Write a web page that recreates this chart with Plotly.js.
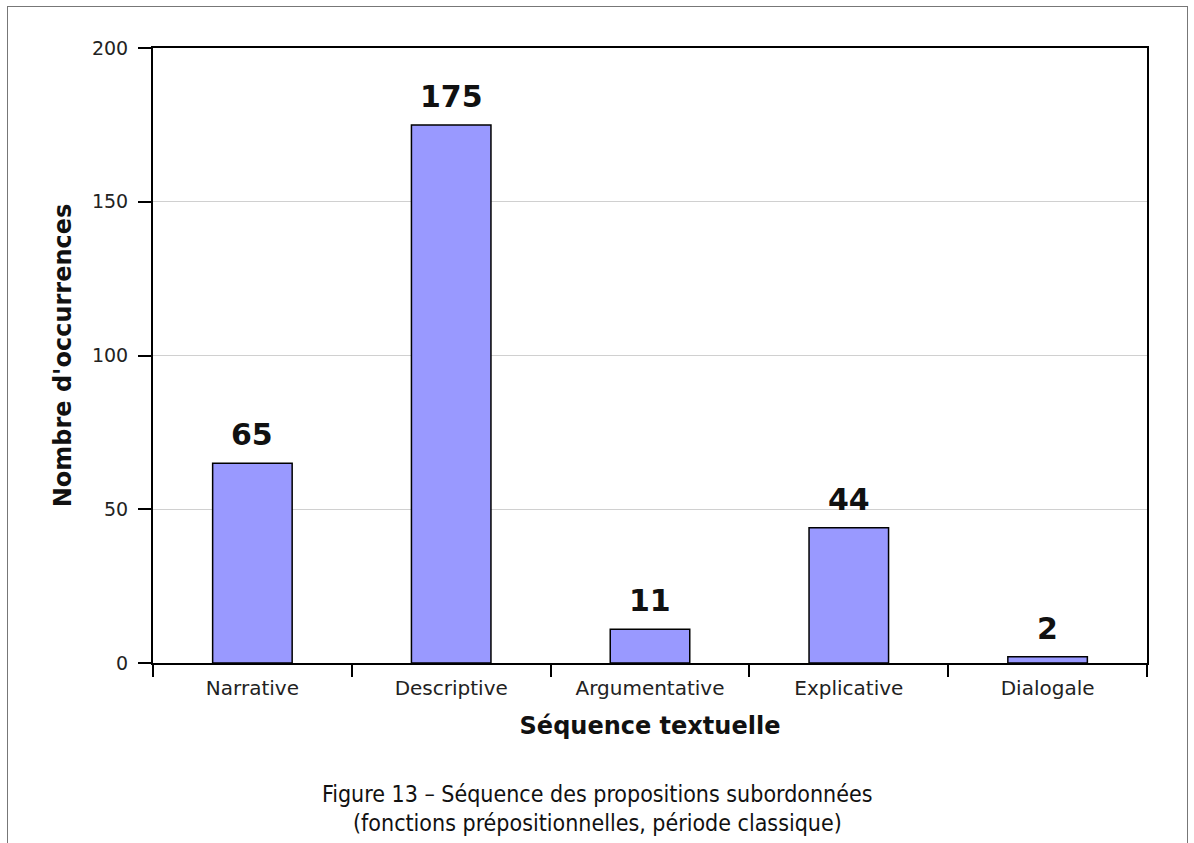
<!DOCTYPE html>
<html>
<head>
<meta charset="utf-8">
<script src="https://cdn.plot.ly/plotly-3.0.1.min.js"></script>
<style>
html,body{margin:0;padding:0;background:#fff;overflow:hidden;}
#chart{position:absolute;left:0;top:0;width:1194px;height:843px;}
#frame{position:absolute;left:7px;top:6px;width:1179px;height:1000px;border:1px solid #777;pointer-events:none;}
</style>
</head>
<body>
<div id="chart"></div>
<div id="frame"></div>
<script>
const categories = ["Narrative", "Descriptive", "Argumentative", "Explicative", "Dialogale"];
const occurrences = [65, 175, 11, 44, 2];
const yTicks = [0, 50, 100, 150, 200];
const xTitle = "Séquence textuelle";
const yTitle = "Nombre d'occurrences";
const captionLines = ["Figure 13 – Séquence des propositions subordonnées",
                      "(fonctions prépositionnelles, période classique)"];

const trace = {
  type: "bar",
  x: categories,
  y: occurrences,
  width: 0.4,
  marker: {color: "#9999ff", line: {color: "#000", width: 1.5}},
  hoverinfo: "none"
};

const annotations = categories.map((c, i) => ({
  x: c, y: occurrences[i], xref: "x", yref: "y",
  text: String(occurrences[i]),
  showarrow: false, yanchor: "bottom", yshift: 9,
  font: {family: "DejaVu Sans", size: 30, color: "#111", weight: "bold"}
}));
const capFont = {family: "DejaVu Sans Condensed, Liberation Sans, sans-serif", size: 23, color: "#111"};
annotations.push({
  x: 0.447, y: 0, xref: "paper", yref: "paper",
  text: captionLines[0], showarrow: false, xanchor: "center", yanchor: "bottom", yshift: -(809 - 663),
  font: capFont
});
annotations.push({
  x: 0.447, y: 0, xref: "paper", yref: "paper",
  text: captionLines[1], showarrow: false, xanchor: "center", yanchor: "bottom", yshift: -(838 - 663),
  font: capFont
});

const layout = {
  width: 1194, height: 843,
  margin: {l: 153, r: 47, t: 48, b: 180},
  paper_bgcolor: "rgba(0,0,0,0)",
  plot_bgcolor: "#fff",
  showlegend: false,
  xaxis: {
    type: "category",
    tickson: "boundaries",
    ticks: "outside", ticklen: 12, tickwidth: 2, tickcolor: "#000",
    ticklabelstandoff: 6,
    showline: true, linecolor: "#000", linewidth: 2, mirror: true,
    showgrid: false,
    tickfont: {family: "DejaVu Sans", size: 20, color: "#222"},
    title: {text: xTitle, standoff: 18, font: {family: "DejaVu Sans", size: 24, color: "#111", weight: "bold"}},
    automargin: false
  },
  yaxis: {
    range: [0, 200],
    tickvals: yTicks,
    ticks: "outside", ticklen: 13, tickwidth: 2, tickcolor: "#000",
    ticklabelstandoff: 6,
    showline: true, linecolor: "#000", linewidth: 2, mirror: true,
    showgrid: true, gridcolor: "#d0d0d0", gridwidth: 1,
    zeroline: false,
    tickfont: {family: "DejaVu Sans", size: 19, color: "#222"},
    title: {text: yTitle, standoff: 14, font: {family: "DejaVu Sans", size: 24, color: "#111", weight: "bold"}},
    automargin: false
  },
  annotations: annotations
};

Plotly.newPlot("chart", [trace], layout, {staticPlot: true, displayModeBar: false});
</script>
</body>
</html>
